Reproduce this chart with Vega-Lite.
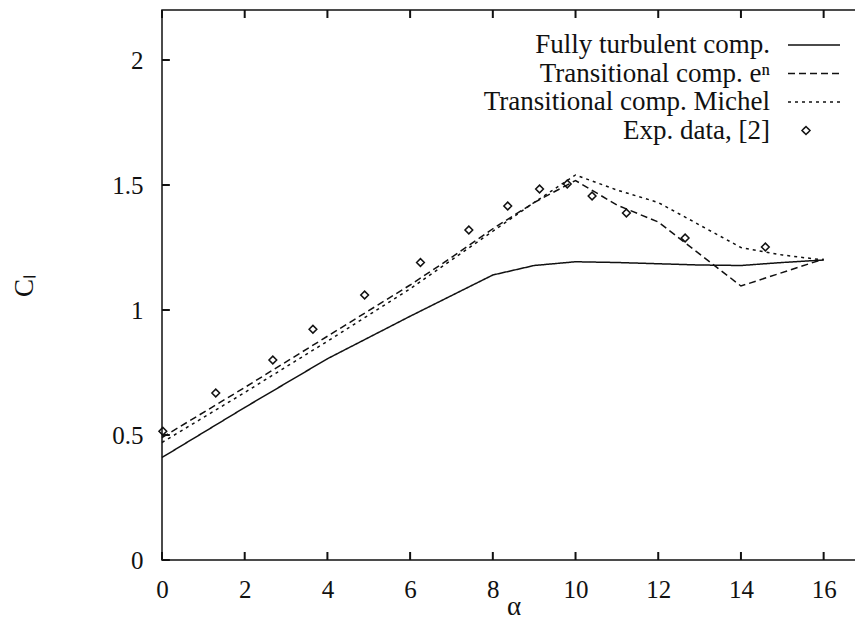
{
  "$schema": "https://vega.github.io/schema/vega-lite/v6.json",
  "width": 703,
  "height": 550,
  "autosize": {"type": "none"},
  "padding": {"left": 162, "top": 10, "right": 0, "bottom": 67},
  "background": "white",
  "config": {
    "font": "Liberation Serif",
    "view": {"stroke": "#111", "strokeWidth": 1.5},
    "axis": {
      "grid": false,
      "domain": false,
      "ticks": false,
      "labelFont": "Liberation Serif",
      "labelFontSize": 25,
      "labelColor": "#111",
      "titleFont": "Liberation Serif",
      "titleFontSize": 27,
      "titleColor": "#111",
      "titleFontWeight": "normal"
    }
  },
  "datasets": {
    "lines": [
      {"series": "Fully turbulent comp.", "alpha": 0, "cl": 0.41},
      {"series": "Fully turbulent comp.", "alpha": 2, "cl": 0.61},
      {"series": "Fully turbulent comp.", "alpha": 4, "cl": 0.805},
      {"series": "Fully turbulent comp.", "alpha": 6, "cl": 0.975},
      {"series": "Fully turbulent comp.", "alpha": 8, "cl": 1.14},
      {"series": "Fully turbulent comp.", "alpha": 9, "cl": 1.178},
      {"series": "Fully turbulent comp.", "alpha": 10, "cl": 1.193},
      {"series": "Fully turbulent comp.", "alpha": 11, "cl": 1.19},
      {"series": "Fully turbulent comp.", "alpha": 12, "cl": 1.185},
      {"series": "Fully turbulent comp.", "alpha": 13, "cl": 1.18},
      {"series": "Fully turbulent comp.", "alpha": 14, "cl": 1.178},
      {"series": "Fully turbulent comp.", "alpha": 15, "cl": 1.19},
      {"series": "Fully turbulent comp.", "alpha": 16, "cl": 1.2},
      {"series": "Transitional comp. eⁿ", "alpha": 0, "cl": 0.49},
      {"series": "Transitional comp. eⁿ", "alpha": 2, "cl": 0.69},
      {"series": "Transitional comp. eⁿ", "alpha": 4, "cl": 0.895},
      {"series": "Transitional comp. eⁿ", "alpha": 6, "cl": 1.1},
      {"series": "Transitional comp. eⁿ", "alpha": 7, "cl": 1.21},
      {"series": "Transitional comp. eⁿ", "alpha": 8, "cl": 1.325},
      {"series": "Transitional comp. eⁿ", "alpha": 9, "cl": 1.43},
      {"series": "Transitional comp. eⁿ", "alpha": 10, "cl": 1.518},
      {"series": "Transitional comp. eⁿ", "alpha": 11, "cl": 1.42},
      {"series": "Transitional comp. eⁿ", "alpha": 12, "cl": 1.352},
      {"series": "Transitional comp. eⁿ", "alpha": 14, "cl": 1.096},
      {"series": "Transitional comp. eⁿ", "alpha": 16, "cl": 1.204},
      {"series": "Transitional comp. Michel", "alpha": 0, "cl": 0.47},
      {"series": "Transitional comp. Michel", "alpha": 2, "cl": 0.67},
      {"series": "Transitional comp. Michel", "alpha": 4, "cl": 0.875},
      {"series": "Transitional comp. Michel", "alpha": 6, "cl": 1.085},
      {"series": "Transitional comp. Michel", "alpha": 8, "cl": 1.315},
      {"series": "Transitional comp. Michel", "alpha": 9, "cl": 1.43},
      {"series": "Transitional comp. Michel", "alpha": 10, "cl": 1.54},
      {"series": "Transitional comp. Michel", "alpha": 11, "cl": 1.48},
      {"series": "Transitional comp. Michel", "alpha": 12, "cl": 1.43},
      {"series": "Transitional comp. Michel", "alpha": 13, "cl": 1.34},
      {"series": "Transitional comp. Michel", "alpha": 14, "cl": 1.25},
      {"series": "Transitional comp. Michel", "alpha": 15, "cl": 1.22},
      {"series": "Transitional comp. Michel", "alpha": 16, "cl": 1.2}
    ],
    "exp": [
      {"alpha": 0.02, "cl": 0.515},
      {"alpha": 1.3, "cl": 0.668},
      {"alpha": 2.68, "cl": 0.8},
      {"alpha": 3.65, "cl": 0.923},
      {"alpha": 4.9, "cl": 1.06},
      {"alpha": 6.25, "cl": 1.19},
      {"alpha": 7.42, "cl": 1.32},
      {"alpha": 8.36, "cl": 1.416},
      {"alpha": 9.13, "cl": 1.484},
      {"alpha": 9.8, "cl": 1.504},
      {"alpha": 10.4, "cl": 1.456},
      {"alpha": 11.23, "cl": 1.388},
      {"alpha": 12.65, "cl": 1.288},
      {"alpha": 14.59, "cl": 1.252}
    ],
    "xticks": [{"v": 0}, {"v": 2}, {"v": 4}, {"v": 6}, {"v": 8}, {"v": 10}, {"v": 12}, {"v": 14}, {"v": 16}],
    "yticks": [{"v": 0}, {"v": 0.5}, {"v": 1}, {"v": 1.5}, {"v": 2}]
  },
  "layer": [
    {
      "data": {"name": "lines"},
      "mark": {"type": "line", "strokeWidth": 1.5, "color": "#111"},
      "encoding": {
        "x": {
          "field": "alpha",
          "type": "quantitative",
          "scale": {"domain": [0, 17], "nice": false},
          "axis": {
            "orient": "bottom",
            "values": [0, 2, 4, 6, 8, 10, 12, 14, 16],
            "title": "α",
            "labelPadding": 17,
            "titlePadding": -9,
            "labelFlush": false
          }
        },
        "y": {
          "field": "cl",
          "type": "quantitative",
          "scale": {"domain": [0, 2.2], "nice": false},
          "axis": {
            "values": [0, 0.5, 1, 1.5, 2],
            "format": "~g",
            "title": "Cₗ",
            "labelPadding": 19,
            "titlePadding": 73,
            "labelFlush": false
          }
        },
        "strokeDash": {
          "field": "series",
          "type": "nominal",
          "scale": {
            "domain": ["Fully turbulent comp.", "Transitional comp. eⁿ", "Transitional comp. Michel", "Exp. data, [2]"],
            "range": [[1, 0], [7, 4], [3, 4], [1, 0]]
          },
          "legend": {
            "orient": "none",
            "legendX": 638.5,
            "legendY": 21.5,
            "title": null,
            "padding": 0,
            "symbolType": "M-5.2,0L5.2,0",
            "symbolSize": 100,
            "symbolStrokeColor": "#111",
            "symbolFillColor": "transparent",
            "symbolStrokeWidth": 1.5,
            "labelAlign": "right",
            "labelOffset": -57.5,
            "labelFont": "Liberation Serif",
            "labelFontSize": 27,
            "labelColor": "#111",
            "labelLimit": 500,
            "rowPadding": 0.5,
            "encode": {
              "symbols": {
                "update": {
                  "shape": {"signal": "datum.value === 'Exp. data, [2]' ? 'M-1.6,-0.8L-0.8,0L-1.6,0.8L-2.4,0Z' : 'M-5.2,0L5.2,0'"}
                }
              }
            }
          }
        }
      }
    },
    {
      "data": {"name": "exp"},
      "mark": {"type": "point", "shape": "diamond", "size": 60, "filled": false, "stroke": "#111", "strokeWidth": 1.5, "opacity": 1},
      "encoding": {
        "x": {"field": "alpha", "type": "quantitative"},
        "y": {"field": "cl", "type": "quantitative"}
      }
    },
    {
      "data": {"name": "xticks"},
      "mark": {"type": "rule", "strokeWidth": 2, "color": "#111", "opacity": 1},
      "encoding": {
        "x": {"field": "v", "type": "quantitative"},
        "y": {"datum": 0, "type": "quantitative"},
        "y2": {"datum": 0.032}
      }
    },
    {
      "data": {"name": "xticks"},
      "mark": {"type": "rule", "strokeWidth": 2, "color": "#111", "opacity": 1},
      "encoding": {
        "x": {"field": "v", "type": "quantitative"},
        "y": {"datum": 2.2, "type": "quantitative"},
        "y2": {"datum": 2.168}
      }
    },
    {
      "data": {"name": "yticks"},
      "mark": {"type": "rule", "strokeWidth": 2, "color": "#111", "opacity": 1},
      "encoding": {
        "y": {"field": "v", "type": "quantitative"},
        "x": {"datum": 0, "type": "quantitative"},
        "x2": {"datum": 0.19}
      }
    }
  ]
}
